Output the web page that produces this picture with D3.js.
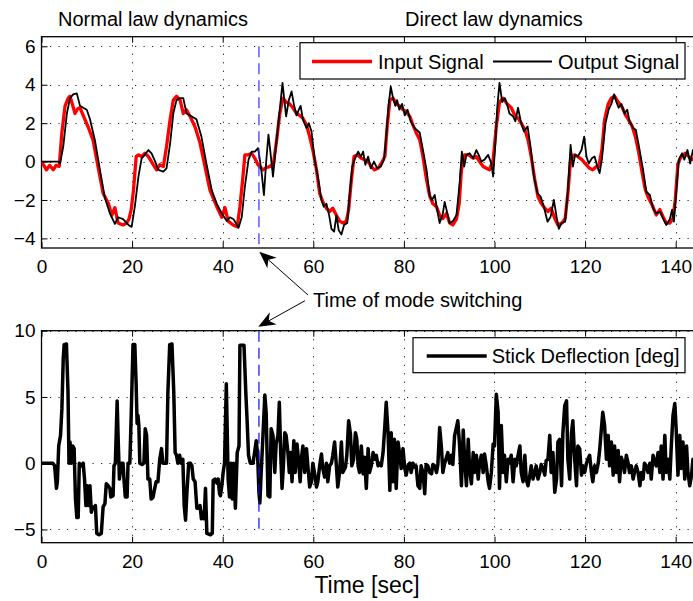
<!DOCTYPE html>
<html>
<head>
<meta charset="utf-8">
<script src="https://cdn.jsdelivr.net/npm/d3@7"></script>
<style>
  body { margin: 0; background: #fff; }
  svg { display: block; font-family: "Liberation Sans", Arial, Helvetica, sans-serif; }
</style>
</head>
<body>
<svg id="chart"></svg>
<script>
// ---- data ----
const xTicks = [0, 20, 40, 60, 80, 100, 120, 140];
const topYTicks = [-4, -2, 0, 2, 4, 6];
const botYTicks = [-5, 0, 5, 10];
const switchTime = 48;
const seriesNames = ['Input Signal', 'Output Signal', 'Stick Deflection [deg]'];

// [time, value]
const inputSignal = [[0,0],[1.1,-0.43],[1.8,-0.2],[2.6,-0.43],[3.2,-0.2],[3.9,-0.26],[4.5,1.5],[5.2,2.9],[5.9,3.3],[6.3,3.4],[6.8,3.0],[7.4,2.5],[8.0,2.75],[8.5,2.8],[9.2,2.4],[10.3,1.8],[11.4,1.1],[12.5,-0.3],[13.6,-1.65],[14.8,-2.2],[15.5,-2.8],[16.2,-2.4],[16.9,-3.2],[18,-3.3],[18.8,-3.2],[19.3,-3.0],[19.8,-2.5],[20.3,-1.5],[20.9,0.26],[21.4,0.35],[22.1,0.26],[22.8,0.43],[23.6,0.26],[24.7,-0.17],[25.4,-0.43],[26.1,-0.17],[26.9,-0.26],[27.6,0.78],[28.4,2.2],[29.1,3.2],[29.8,3.4],[30.6,3.2],[31.3,2.5],[32,2.7],[32.8,2.35],[33.9,1.8],[35,0.96],[36.1,-0.26],[37.2,-1.5],[38.7,-2.35],[39.8,-2.9],[40.5,-2.4],[41.2,-3.1],[42.3,-3.3],[43.2,-3.4],[43.8,-2.35],[44.4,-0.96],[44.9,0.35],[45.7,0.35],[46.4,0.43],[47.1,0.17],[47.8,-0.17],[48.9,-0.43],[49.7,-0.3],[50.4,-0.26],[51.2,-0.1],[51.9,1.1],[52.6,2.5],[53.3,3.3],[54,3.1],[54.8,3.0],[55.5,2.8],[56.3,2.5],[57,2.4],[57.7,2.26],[58.5,1.9],[59.2,1.3],[59.9,0.6],[60.7,-0.43],[61.4,-1.65],[62.1,-2.1],[62.9,-2.43],[63.6,-2.6],[64.3,-2.43],[65.1,-2.8],[65.8,-3.1],[66.6,-3.2],[67.3,-3.1],[67.8,-2.5],[68.4,-0.96],[69,0.26],[69.7,0.35],[70.6,0.17],[71.3,0.1],[72.1,0],[72.8,-0.26],[73.5,-0.43],[74.3,-0.35],[75,-0.1],[75.8,0.26],[76.3,1.8],[76.9,3.2],[77.6,3.3],[78.3,3.0],[79,2.9],[79.8,2.7],[80.5,2.6],[81.3,2.35],[82,1.9],[82.7,1.5],[83.5,1.13],[84.2,0.26],[85,-0.96],[85.7,-1.8],[86.4,-2.2],[87.2,-2.35],[87.9,-2.8],[88.6,-2.96],[89.4,-2.7],[90.1,-3.2],[90.8,-3.3],[91.6,-3.0],[92.2,-2.2],[92.7,-0.43],[93.4,0.35],[94.3,0.35],[95.3,0.17],[96,0.26],[96.7,0],[97.5,-0.26],[98.2,-0.35],[98.9,-0.43],[99.7,0.1],[100.4,1.83],[101.1,3.1],[101.9,3.3],[102.8,3.0],[103.7,2.8],[104.5,2.4],[105.2,2.26],[105.9,2.0],[106.7,1.65],[107.4,1.13],[108.1,0.26],[108.9,-0.96],[109.6,-1.83],[110.3,-2.17],[111.1,-2.43],[111.8,-2.6],[112.5,-2.43],[113.3,-2.96],[114,-3.3],[114.9,-3.2],[115.6,-2.96],[116.2,-1.65],[116.8,0.1],[117.6,0.35],[118.4,0.26],[119.3,0.1],[120,-0.1],[121,-0.35],[121.7,-0.43],[122.5,-0.26],[123,-0.26],[123.7,0.6],[124.3,2.17],[125.1,3.0],[125.8,3.3],[126.5,3.4],[127.3,3.1],[128.1,2.87],[128.9,2.43],[129.6,2.17],[130.4,1.83],[131.1,1.3],[131.8,0.52],[132.6,-0.6],[133.3,-1.48],[134,-1.9],[134.8,-2.26],[135.7,-2.78],[136.5,-2.5],[137.2,-2.87],[137.9,-3.2],[138.7,-3.2],[139.4,-2.96],[139.9,-2.0],[140.5,-0.1],[141.2,0.26],[142.1,0.43],[142.9,0.26],[143.8,0.1],[145,0.3]];

const outputSignal = [[0,0],[3.7,0],[4.1,-0.1],[4.8,0.78],[5.6,2.5],[6.3,3.3],[7,3.5],[7.8,3.55],[8.5,2.9],[9.2,2.8],[10,2.7],[10.7,2.2],[11.8,1.1],[12.9,-0.43],[14,-1.9],[15.1,-2.7],[16.2,-3.25],[16.9,-2.9],[18,-3.0],[19.2,-3.3],[19.9,-3.4],[20.6,-2.35],[21.4,-0.78],[22.1,0.17],[22.8,0.35],[23.6,0.6],[24.3,0.43],[25.1,0],[25.8,-0.43],[26.9,-0.52],[27.6,-0.35],[28.4,0.96],[29.1,2.5],[29.8,3.2],[30.6,3.3],[31.3,3.3],[32,2.5],[32.8,2.4],[34.2,2.2],[35.3,1.3],[36.4,-0.1],[37.6,-1.5],[38.7,-2.2],[39.8,-2.7],[40.9,-3.1],[41.6,-2.9],[42.4,-3.0],[43.5,-3.45],[44.2,-2.9],[44.9,-1.3],[45.7,0.1],[46.4,0.52],[47.1,0.52],[47.8,0.7],[48.2,0.1],[48.6,-0.6],[49.1,-1.75],[49.6,0.0],[50.1,1.4],[50.6,0.35],[51.1,-0.78],[51.8,0.9],[52.6,2.7],[53.2,4.1],[53.7,3.0],[54,2.35],[54.6,3.2],[55.2,3.65],[55.7,3.0],[56.3,2.4],[56.8,2.7],[57.2,2.9],[57.7,2.2],[58.5,1.74],[59,2.0],[59.6,1.57],[60.3,0.1],[61,-0.78],[61.8,-2.0],[62.3,-2.35],[62.9,-2.2],[63.5,-2.8],[64,-3.5],[64.6,-3.65],[65.1,-2.8],[65.6,-3.57],[66.2,-3.8],[66.8,-3.3],[67.5,-3.2],[68,-1.8],[68.6,-0.26],[69.1,0.1],[69.9,0.52],[70.5,0.26],[71,0.52],[71.5,-0.17],[72.1,0.26],[72.7,-0.35],[73.4,0],[74.1,-0.35],[74.9,-0.26],[75.6,0.1],[76.1,1.3],[76.6,2.9],[77.1,3.9],[77.6,3.3],[78.1,2.9],[78.5,3.2],[79,2.7],[79.6,3.0],[80.2,2.4],[80.8,2.7],[81.5,2.1],[82.4,1.74],[83.5,1.5],[84.2,0.6],[85,-0.43],[85.7,-1.8],[86.2,-2.0],[86.8,-1.74],[87.4,-2.6],[87.9,-3.2],[88.6,-2.7],[89,-2.1],[89.6,-2.7],[90.1,-3.2],[90.8,-3.1],[91.6,-2.8],[92.3,-1.13],[92.8,0.52],[93.3,-0.26],[93.8,0.35],[94.5,0.43],[95.3,0.17],[96,0.6],[96.5,0.35],[97.1,0.0],[97.8,0.1],[98.6,0.35],[99.3,-0.1],[99.7,-0.78],[100.2,0.96],[100.6,2.8],[101.1,4.1],[101.7,3.1],[102.3,3.3],[102.8,2.96],[103.3,2.5],[104.1,2.35],[104.6,2.1],[105.2,2.8],[105.8,2.1],[106.5,1.57],[107.3,1.83],[108,0.7],[108.7,-0.78],[109.5,-1.65],[110.2,-1.83],[110.9,-2.35],[111.7,-3.13],[112.4,-2.87],[113.1,-2.0],[113.7,-2.87],[114.2,-3.5],[114.8,-3.2],[115.6,-3.13],[116.2,-1.48],[116.8,0.87],[117.3,-0.26],[117.8,0.35],[118.4,0.26],[119.2,0.6],[119.8,1.3],[120.3,0.26],[120.8,-0.1],[121.5,0.17],[122.1,0.26],[122.7,-0.26],[123.2,-0.6],[123.7,0.1],[124.5,2.0],[125.2,2.7],[125.8,3.0],[126.4,3.5],[126.9,3.1],[127.4,2.8],[128,3.0],[128.7,2.5],[129.3,2.7],[129.8,2.1],[130.6,1.74],[131.2,1.65],[131.9,0.78],[132.8,-0.43],[133.5,-1.57],[134.3,-1.74],[135,-2.43],[135.7,-2.7],[136.5,-2.6],[137.2,-2.96],[137.9,-3.3],[138.7,-3.0],[139.2,-2.5],[139.6,-3.13],[140.1,-1.65],[140.7,0.1],[141.4,0.43],[141.9,0.1],[142.6,0.6],[143.2,-0.1],[143.8,0.6],[145,0.4]];

const stickDeflection = [[0,0],[2.5,0],[2.9,-0.2],[3.3,-1.9],[3.5,-1.4],[3.8,1.3],[4.2,2.1],[4.5,4.1],[4.8,7.9],[5,8.95],[5.5,9],[5.85,5.4],[6.07,0],[6.3,1.6],[6.6,0],[6.9,1.3],[7.2,1.1],[7.5,-2.7],[7.8,-4.1],[8.1,-4.1],[8.35,0],[8.8,-0.2],[9.2,0],[9.5,-1.2],[9.8,-3.2],[10.1,-1.7],[10.4,-3.2],[10.7,-1.7],[11,-3.7],[11.3,-3.3],[11.6,-3.4],[11.9,-3.2],[12.2,-5.3],[12.7,-5.4],[13.2,-5.3],[13.6,-3.3],[14,-3.05],[14.3,-1.55],[14.7,-1.7],[15.1,-1.9],[15.3,-2.55],[15.8,-2.45],[16,-0.2],[16.3,0],[16.7,4.7],[16.9,2.1],[17.2,-1.2],[17.6,0],[18,0],[18.2,-1.2],[18.5,-2.55],[18.9,-2.55],[19.1,0],[19.5,0],[19.8,3.6],[20.2,8.95],[20.6,8.95],[20.9,5.85],[21.1,3.0],[21.3,3.6],[21.5,2.8],[21.7,0],[22.2,-0.1],[22.6,0],[22.9,2.6],[23.2,2.1],[23.5,-1.2],[23.9,-1.2],[24.2,-2.7],[24.6,-2.6],[25,-1.9],[25.3,-1.4],[25.7,-1.4],[26.1,0.3],[26.5,1.1],[26.8,0],[27.6,0],[27.9,5.35],[28.3,8.95],[28.8,9],[29.2,5.35],[29.5,0.8],[29.8,0.6],[30.1,0],[30.5,0.6],[30.8,0],[31.2,0.3],[31.5,-3.2],[31.8,-4.3],[32.1,-2.2],[32.5,0],[32.9,0],[33.2,-0.2],[33.5,-1.2],[33.9,-1.4],[34.3,-3.4],[34.7,-3.4],[35,-3.2],[35.3,-4.2],[35.6,-3.7],[35.9,-4.2],[36.2,-1.9],[36.5,-5.3],[37.3,-5.4],[37.7,-5.3],[37.9,-1.3],[38.3,-1.2],[38.7,-1.5],[39,-1.2],[39.3,-2.3],[39.5,-2.45],[39.8,-1.7],[40.1,-0.7],[40.4,0],[40.8,6.0],[41.2,-1.2],[41.5,-2.55],[41.8,0],[42.1,-2.7],[42.4,0],[42.8,-3.4],[43.2,0.8],[43.6,1.3],[43.8,8.9],[44.7,8.9],[45.1,5.35],[45.4,3.1],[45.7,0.6],[46.1,0],[46.7,0],[47.1,0.95],[47.4,1.7],[47.7,0.7],[48,-2.2],[48.2,-3.0],[48.5,-0.7],[48.9,2.2],[49.3,5.15],[49.6,3.8],[50,-2.45],[50.4,-2.55],[50.7,2.6],[51.1,2.1],[51.5,-0.7],[51.8,1.45],[52.2,2.1],[52.5,4.6],[52.8,0.8],[53.1,-1.9],[53.4,-0.2],[53.7,2.3],[54,2.1],[54.4,0.8],[54.7,-0.7],[55,0.8],[55.3,-1.4],[55.7,1.7],[56,-0.7],[56.4,1.45],[56.8,0],[57.1,-1.4],[57.4,0.45],[57.7,1.3],[58.1,-0.7],[58.5,1.1],[58.8,-0.2],[59.2,-1.8],[59.6,-1.4],[59.9,0],[60.3,-0.8],[60.7,-1.8],[61,-1.4],[61.4,-0.2],[61.8,0.7],[62.1,-0.4],[62.5,-1.05],[62.9,0],[63.2,-1.4],[63.6,-0.2],[64,0],[64.3,0.6],[64.7,1.6],[65.1,-0.2],[65.4,-1.8],[65.8,-0.7],[66.2,1.6],[66.5,-0.7],[67.1,-0.3],[67.4,0.6],[67.8,3.2],[68.2,2.2],[68.5,-0.2],[68.9,0.3],[69.3,2.3],[69.6,1.8],[69.9,-0.2],[70.2,-0.7],[70.6,1.3],[71,-0.8],[71.3,0.45],[71.7,-1.9],[72.1,1.1],[72.4,-0.7],[72.8,-0.2],[73.2,0.8],[73.5,0.3],[73.9,0.6],[74.3,-0.2],[74.6,0],[75,-0.2],[75.4,0.8],[75.8,2.85],[76.1,4.6],[76.5,2.3],[76.9,-2.05],[77.2,2.3],[77.6,-1.4],[77.9,1.8],[78.3,-1.9],[78.7,1.6],[79.1,0.6],[79.4,-0.4],[79.8,1.1],[80.2,-0.4],[80.5,-0.9],[80.9,-0.2],[81.3,0],[81.6,-0.7],[82,0],[82.4,-0.3],[82.7,-0.2],[83.1,-1.7],[83.5,-1.9],[83.8,-0.2],[84.2,-0.7],[84.6,-2.3],[84.9,-0.1],[85.3,-0.2],[85.7,-0.7],[86.1,-0.8],[86.4,-0.1],[86.8,-0.2],[87.2,-0.7],[87.5,-0.1],[87.9,2.7],[88.3,1.1],[88.6,-0.7],[89,0],[89.4,0.45],[89.7,0.8],[90.1,0],[90.5,0.6],[90.8,-0.1],[91.2,2.1],[91.6,2.7],[91.9,3.2],[92.3,1.3],[92.7,-1.7],[93.1,2.5],[93.4,0.3],[93.8,-1.7],[94.2,1.8],[94.5,-0.4],[94.9,-1.55],[95.3,0.8],[95.6,-0.7],[96,0.6],[96.4,-1.2],[96.7,0],[97.1,0.6],[97.5,-0.7],[97.8,0.7],[98.2,-0.2],[98.6,-1.4],[98.9,-1.9],[99.3,-0.7],[99.7,1.45],[100,1.3],[100.4,5.2],[100.8,3.85],[101.1,-1.9],[101.5,2.85],[101.9,-0.7],[102.2,0.6],[102.6,-1.4],[103,0.3],[103.3,0],[103.7,0.6],[104.1,-1.4],[104.5,0.3],[104.8,-0.2],[105.2,0.6],[105.6,1.3],[105.9,-0.7],[106.3,-1.4],[106.7,0.6],[107,-1.2],[107.4,-1.7],[107.8,-0.9],[108.1,-0.2],[108.5,-1.2],[108.9,-0.7],[109.2,-0.2],[109.6,-1.2],[110,-0.7],[110.3,-0.1],[110.7,-0.4],[111.1,-0.9],[111.4,0.2],[111.8,0.3],[112.2,2.1],[112.5,-0.7],[112.9,0.8],[113.3,-2.2],[113.7,-1.2],[114,1.6],[114.4,1.8],[114.8,-1.7],[115.1,2.3],[115.5,4.35],[115.9,4.7],[116.2,0.3],[116.6,-1.2],[117,2.3],[117.3,3.2],[117.7,0.3],[118.1,-1.7],[118.4,1.3],[118.8,1.1],[119.2,-0.9],[119.5,-0.2],[119.9,-0.7],[120.3,0],[120.6,0.3],[121,0.6],[121.4,-0.7],[121.7,-1.4],[122.1,-0.2],[122.5,-0.7],[122.9,0],[123.2,0.95],[123.6,2.6],[123.9,3.85],[124.3,2.85],[124.7,0.3],[125.1,2.1],[125.4,-0.2],[125.8,1.6],[126.2,-0.9],[126.5,1.3],[126.9,-0.7],[127.3,0.95],[127.6,-1.4],[128,0.45],[128.4,0],[128.7,-0.7],[129.1,0.6],[129.5,0],[129.8,-0.7],[130.2,-0.2],[130.6,-1.2],[130.9,-0.7],[131.3,-0.2],[131.7,-0.7],[132.1,-1.7],[132.4,-0.7],[132.8,-1.2],[133.1,0],[133.5,-0.2],[133.9,-0.7],[134.3,0],[134.6,-1.2],[135,0.6],[135.4,0],[135.7,-0.2],[136.1,0.8],[136.5,-0.7],[136.8,1.3],[137.2,-1.2],[137.6,2.1],[137.9,-0.7],[138.3,0.3],[138.7,-1.2],[139,1.1],[139.4,3.6],[139.8,4.5],[140.1,2.6],[140.5,-0.9],[140.9,2.1],[141.2,-0.4],[141.6,1.6],[142,-1.2],[142.4,1.3],[142.7,-0.7],[143.1,-1.7],[143.5,-0.9],[143.8,0.3],[145,-0.5]];

// ---- layout ----
const width = 693, height = 601;
const svg = d3.select('#chart').attr('width', width).attr('height', height);

const x = d3.scaleLinear().domain([0, 150]).range([41.5, 41.5 + 150 * 4.53]);
const yTop = d3.scaleLinear().domain([-4.5, 6.5]).range([248, 36.7]);
const yBot = d3.scaleLinear().domain([-6, 10]).range([542.7, 330.7]);

const fontTick = 19;

function drawPanel(y, yTicks, id) {
  const g = svg.append('g');
  const [x0, x1] = x.range();
  const [yb, yt] = y.range();

  g.append('clipPath').attr('id', id)
    .append('rect').attr('x', x0).attr('y', yt).attr('width', x1 - x0).attr('height', yb - yt);

  // dotted grid
  const grid = g.append('g').attr('stroke', '#222').attr('stroke-width', 1)
    .attr('stroke-dasharray', '1.2,7.3');
  grid.selectAll('.gx').data(xTicks.slice(1)).enter().append('line')
    .attr('x1', d => Math.round(x(d)) + 0.5).attr('x2', d => Math.round(x(d)) + 0.5)
    .attr('y1', yt).attr('y2', yb);
  grid.selectAll('.gy').data(yTicks).enter().append('line')
    .attr('x1', x0).attr('x2', x1)
    .attr('y1', d => Math.round(y(d)) + 0.5).attr('y2', d => Math.round(y(d)) + 0.5);

  // axes with inner ticks
  const xb = g.append('g').attr('transform', `translate(0,${yb})`)
    .call(d3.axisBottom(x).tickValues(xTicks).tickSizeInner(-6).tickSizeOuter(0).tickPadding(12));
  const xt = g.append('g').attr('transform', `translate(0,${yt})`)
    .call(d3.axisTop(x).tickValues(xTicks).tickSizeInner(-6).tickSizeOuter(0).tickFormat(''));
  const yl = g.append('g').attr('transform', `translate(${x0},0)`)
    .call(d3.axisLeft(y).tickValues(yTicks).tickSizeInner(-6).tickSizeOuter(0).tickPadding(6));
  [xb, xt, yl].forEach(a => {
    a.select('.domain').remove();
    a.selectAll('line').attr('stroke', '#000').attr('stroke-width', 1);
    a.selectAll('text').attr('font-size', fontTick).attr('fill', '#000')
      .attr('font-family', '"Liberation Sans", Arial, sans-serif');
  });

  g.append('rect').attr('x', x0).attr('y', yt).attr('width', x1 - x0).attr('height', yb - yt)
    .attr('fill', 'none').attr('stroke', '#000').attr('stroke-width', 1.3);
  return g;
}

const gTop = drawPanel(yTop, topYTicks, 'clipTop');
const gBot = drawPanel(yBot, botYTicks, 'clipBot');

const lineTop = d3.line().x(d => x(d[0])).y(d => yTop(d[1]));
const lineBot = d3.line().x(d => x(d[0])).y(d => yBot(d[1]));

gTop.append('path').datum(inputSignal).attr('d', lineTop).attr('clip-path', 'url(#clipTop)')
  .attr('fill', 'none').attr('stroke', '#ff0000').attr('stroke-width', 3.3).attr('stroke-linejoin', 'round');
gTop.append('path').datum(outputSignal).attr('d', lineTop).attr('clip-path', 'url(#clipTop)')
  .attr('fill', 'none').attr('stroke', '#000').attr('stroke-width', 1.8).attr('stroke-linejoin', 'round');
gBot.append('path').datum(stickDeflection).attr('d', lineBot).attr('clip-path', 'url(#clipBot)')
  .attr('fill', 'none').attr('stroke', '#000').attr('stroke-width', 3.5).attr('stroke-linejoin', 'round');

// mode switching markers
const xs = x(switchTime);
gTop.append('line').attr('x1', xs).attr('x2', xs).attr('y1', yTop(6)).attr('y2', yTop(-4.5))
  .attr('stroke', '#3030ff').attr('stroke-width', 1.2).attr('stroke-dasharray', '11,6');
gBot.append('line').attr('x1', xs).attr('x2', xs).attr('y1', yBot(10)).attr('y2', yBot(-5.3))
  .attr('stroke', '#1010e8').attr('stroke-width', 1.2).attr('stroke-dasharray', '11,6');

// legends
function legend(box, items) {
  const g = svg.append('g');
  g.append('rect').attr('x', box[0]).attr('y', box[1]).attr('width', box[2]).attr('height', box[3])
    .attr('fill', '#fff').attr('stroke', '#000').attr('stroke-width', 1.2);
  items.forEach(it => {
    g.append('line').attr('x1', it.x1).attr('x2', it.x2).attr('y1', it.y).attr('y2', it.y)
      .attr('stroke', it.color).attr('stroke-width', it.w);
    g.append('text').attr('x', it.tx).attr('y', it.y + 7).attr('font-size', 20).text(it.label);
  });
}
legend([300, 42.7, 385, 36.3], [
  { x1: 312, x2: 372, y: 61.5, color: '#ff0000', w: 3.3, tx: 378, label: seriesNames[0] },
  { x1: 493, x2: 552, y: 61.5, color: '#000', w: 1.8, tx: 558, label: seriesNames[1] }
]);
legend([413, 337.7, 272, 35], [
  { x1: 426.7, x2: 486.7, y: 356, color: '#000', w: 3.5, tx: 491.7, label: seriesNames[2] }
]);

// titles / labels
svg.append('text').attr('x', 58).attr('y', 26).attr('font-size', 20).text('Normal law dynamics');
svg.append('text').attr('x', 405).attr('y', 26).attr('font-size', 20).text('Direct law dynamics');
svg.append('text').attr('x', 313).attr('y', 307).attr('font-size', 20).text('Time of mode switching');
svg.append('text').attr('x', 367).attr('y', 593).attr('font-size', 23).attr('text-anchor', 'middle').text('Time [sec]');

// annotation arrows
function arrow(tail, tip) {
  const dx = tip[0] - tail[0], dy = tip[1] - tail[1];
  const len = Math.hypot(dx, dy), ux = dx / len, uy = dy / len;
  const px = -uy, py = ux;
  const hl = 17, hw = 7, notch = 12;
  const base = [tip[0] - ux * hl, tip[1] - uy * hl];
  const back = [tip[0] - ux * notch, tip[1] - uy * notch];
  svg.append('line').attr('x1', tail[0]).attr('y1', tail[1]).attr('x2', back[0]).attr('y2', back[1])
    .attr('stroke', '#000').attr('stroke-width', 1);
  svg.append('path')
    .attr('d', `M${tip[0]},${tip[1]} L${base[0] + px * hw},${base[1] + py * hw} L${back[0]},${back[1]} L${base[0] - px * hw},${base[1] - py * hw} Z`)
    .attr('fill', '#000');
}
arrow([308, 295], [259.3, 251.7]);
arrow([305, 300.7], [258.3, 326.7]);
</script>
</body>
</html>
